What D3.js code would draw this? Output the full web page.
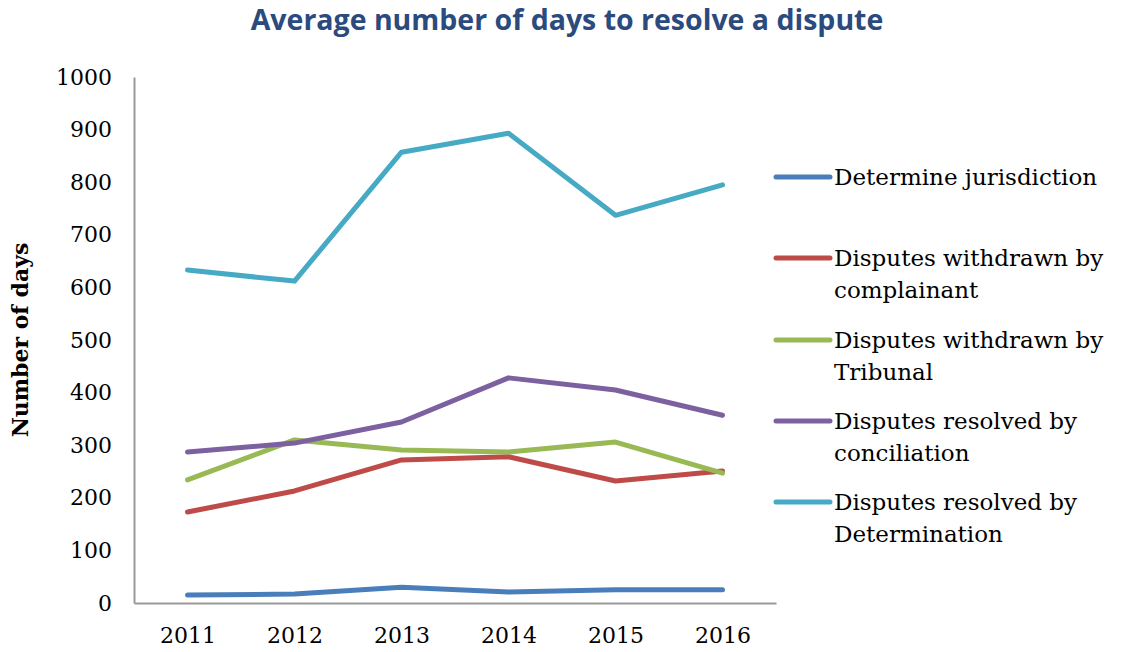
<!DOCTYPE html>
<html><head><meta charset="utf-8">
<script src="https://cdn.jsdelivr.net/npm/d3@7"></script>
<style>body{margin:0;background:#fff}</style>
</head><body><svg id="c" width="1121" height="652"></svg>
<script>
const years = ["2011","2012","2013","2014","2015","2016"];
const seriesNames = ["Determine jurisdiction","Disputes withdrawn by complainant","Disputes withdrawn by Tribunal","Disputes resolved by conciliation","Disputes resolved by Determination"];
const jurisdiction = [15,17,30,21,25,25];
const complainant = [173,213,272,278,232,251];
const tribunal = [234,310,291,287,306,247];
const conciliation = [287,304,344,428,405,357];
const determination = [633,612,857,893,737,795];
const colors = ["#4a7ebb","#be4b48","#98b954","#7d60a0","#46aac5"];
const yTicks = [0,100,200,300,400,500,600,700,800,900,1000];
const legendLines = [["Determine jurisdiction"],["Disputes withdrawn by","complainant"],["Disputes withdrawn by","Tribunal"],["Disputes resolved by","conciliation"],["Disputes resolved by","Determination"]];
const allSeries = [jurisdiction, complainant, tribunal, conciliation, determination];

const svg = d3.select("#c");
const mLeft = 134, mRight = 776, mTop = 77, mBottom = 603;
const x = d3.scalePoint().domain(years).range([mLeft, mRight]).padding(0.5);
const y = d3.scaleLinear().domain([0,1000]).range([mBottom, mTop]);
const serif = "'Palatino Linotype','Book Antiqua','DejaVu Serif',serif";

svg.append("text").attr("x",567).attr("y",30).attr("text-anchor","middle")
  .attr("font-family","'Open Sans',sans-serif").attr("font-weight","bold").attr("font-size",28.5)
  .attr("fill","#2b4a7e").text("Average number of days to resolve a dispute");

const ya = svg.append("g").attr("transform",`translate(${mLeft},0)`)
  .call(d3.axisLeft(y).tickValues(yTicks).tickFormat(d3.format("d")).tickSize(0).tickPadding(22));
ya.select(".domain").attr("stroke","#999").attr("stroke-width",2);
ya.selectAll("text").attr("font-family",serif).attr("font-size",22).attr("fill","#000");

const xa = svg.append("g").attr("transform",`translate(0,${mBottom})`)
  .call(d3.axisBottom(x).tickSize(0).tickPadding(24).tickSizeOuter(0));
xa.select(".domain").attr("stroke","#999").attr("stroke-width",2);
xa.selectAll("text").attr("font-family",serif).attr("font-size",22).attr("fill","#000");

svg.append("text").attr("transform","translate(28,340) rotate(-90)").attr("text-anchor","middle")
  .attr("font-family",serif).attr("font-weight","bold").attr("font-size",22).text("Number of days");

const line = d3.line().x((d,i)=>x(years[i])).y(d=>y(d));
allSeries.forEach((s,i)=>{
  svg.append("path").datum(s).attr("d",line).attr("fill","none")
    .attr("stroke",colors[i]).attr("stroke-width",5).attr("stroke-linecap","round").attr("stroke-linejoin","round");
});

const legY = [177,258,340,421,502];
legendLines.forEach((lines,i)=>{
  svg.append("line").attr("x1",776).attr("x2",830).attr("y1",legY[i]).attr("y2",legY[i])
    .attr("stroke",colors[i]).attr("stroke-width",5).attr("stroke-linecap","round");
  lines.forEach((t,j)=>{
    svg.append("text").attr("x",834).attr("y",legY[i]+8+j*32).attr("font-family",serif)
      .attr("font-size",23).attr("fill","#000").text(t);
  });
});
</script></body></html>
